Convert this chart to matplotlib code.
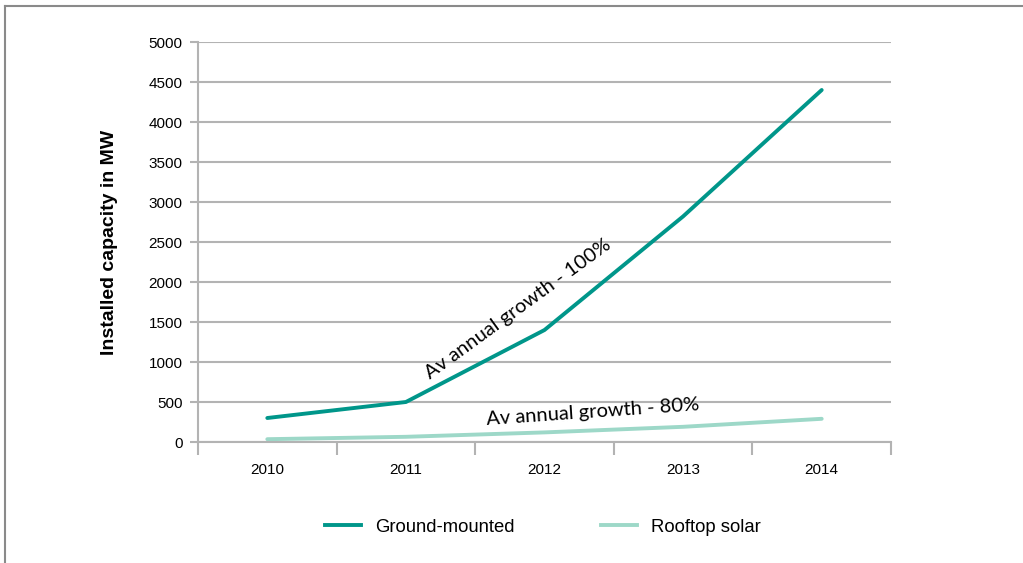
import matplotlib
matplotlib.use("Agg")
import matplotlib.pyplot as plt
from matplotlib.lines import Line2D

years = ["2010", "2011", "2012", "2013", "2014"]
ground_mounted = [300, 500, 1400, 2820, 4400]
rooftop_solar = [35, 65, 120, 190, 290]
y_ticks = [0, 500, 1000, 1500, 2000, 2500, 3000, 3500, 4000, 4500, 5000]

W, H = 1023, 563
fig = plt.figure(figsize=(W / 100, H / 100), dpi=100)
ax = fig.add_axes([198 / W, (H - 442) / H, (891 - 198) / W, 400 / H])

x = list(range(len(years)))
ax.plot(x, ground_mounted, color="#00968a", lw=2.8, solid_capstyle="round", label="Ground-mounted")
ax.plot(x, rooftop_solar, color="#9dd8c8", lw=2.8, solid_capstyle="round", label="Rooftop solar")

ax.set_xlim(-0.5, len(years) - 0.5)
ax.set_ylim(0, 5000)
ax.set_yticks(y_ticks)
ax.set_yticklabels([str(v) for v in y_ticks], fontsize=11, family="Liberation Sans")
ax.yaxis.grid(True, color="#b3b3b3", lw=1.5)
ax.set_axisbelow(True)
ax.set_xticks(x)
ax.set_xticklabels(years, fontsize=11, family="Liberation Sans")
ax.set_xticks([i - 0.5 for i in range(len(years) + 1)], minor=True)
ax.tick_params(axis="x", which="major", length=0, pad=15)
ax.tick_params(axis="x", which="minor", length=9, width=1.5, color="#b3b3b3")
ax.tick_params(axis="y", length=6, width=1.5, color="#b3b3b3", pad=5)
for s in ["top", "right"]:
    ax.spines[s].set_visible(False)
for s in ["left", "bottom"]:
    ax.spines[s].set_color("#b3b3b3")
    ax.spines[s].set_linewidth(1.5)

ax.set_ylabel("Installed capacity in MW", fontsize=14, fontweight="bold",
              family="Liberation Sans", labelpad=22)

ax.text(1.81, 1660, "Av annual growth - 100%", rotation=36, fontsize=14.5,
        family="Lato", ha="center", va="center", rotation_mode="anchor")
ax.text(2.35, 380, "Av annual growth - 80%", rotation=4, fontsize=14.5,
        family="Lato", ha="center", va="center", rotation_mode="anchor")

handles = [Line2D([], [], color="#00968a", lw=2.8),
           Line2D([], [], color="#9dd8c8", lw=2.8)]
fig.legend(handles, ["Ground-mounted", "Rooftop solar"], loc="center",
           bbox_to_anchor=(543 / W, (H - 527) / H), ncol=2, frameon=False,
           prop={"family": "Liberation Sans", "size": 13.3}, handlelength=1.95,
           columnspacing=4.7, handletextpad=0.75)

# outer frame (left and top only visible)
fig.add_artist(Line2D([4.5 / W, 4.5 / W], [0, (H - 6) / H], transform=fig.transFigure,
                      color="#8a8a8a", lw=1.5))
fig.add_artist(Line2D([4.5 / W, 1], [(H - 6) / H, (H - 6) / H], transform=fig.transFigure,
                      color="#8a8a8a", lw=1.5))

fig.savefig("out.png", dpi=100)
